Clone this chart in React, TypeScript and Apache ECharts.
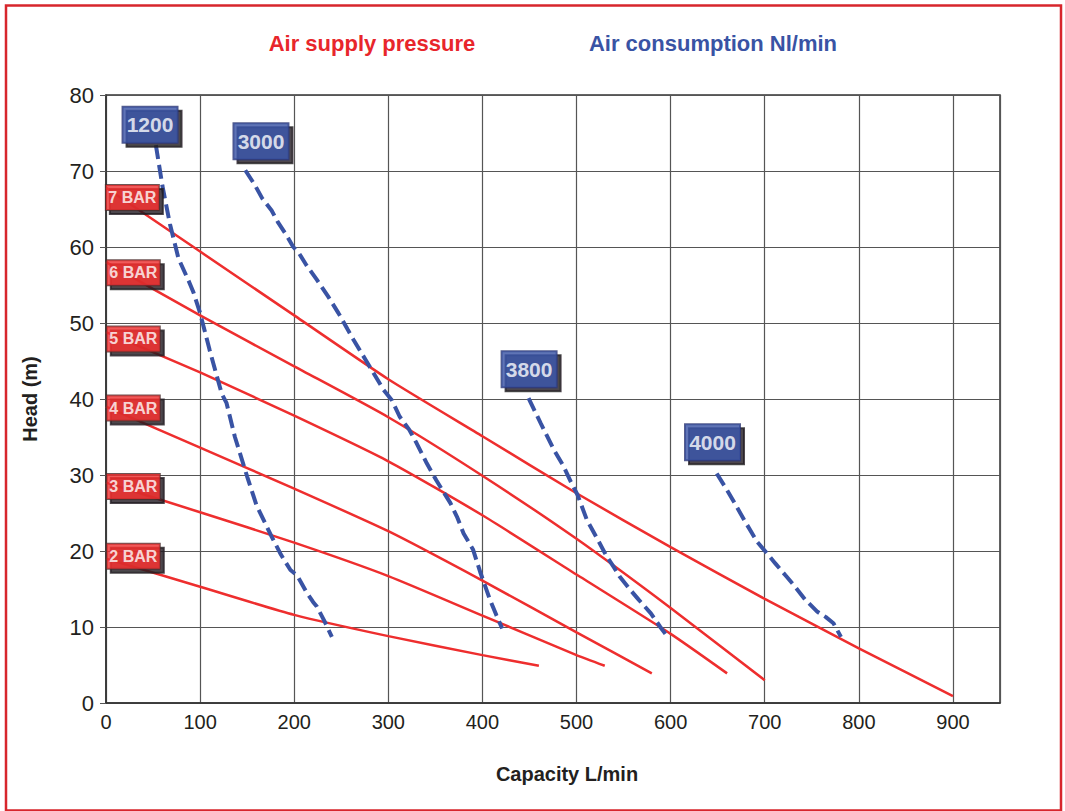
import React, { useEffect, useRef } from "react";
import * as echarts from "echarts";

// Air supply pressure curves: [capacity L/min, head m]
const bar7 = [[0, 67.8], [100, 59.4], [200, 51], [300, 42.6], [400, 35.1], [500, 27.6], [600, 20.5], [700, 13.7], [800, 7.2], [900, 0.9]];
const bar6 = [[0, 58], [100, 51], [200, 44.3], [300, 37.6], [400, 29.9], [500, 21.6], [600, 12.5], [700, 3]];
const bar5 = [[0, 48.8], [100, 43.5], [200, 37.8], [300, 31.8], [400, 24.7], [500, 16.9], [600, 9.1], [660, 3.9]];
const bar4 = [[0, 39], [100, 33.6], [200, 28.2], [300, 22.6], [400, 16.1], [500, 9.3], [580, 3.9]];
const bar3 = [[0, 29], [100, 25.1], [200, 21.1], [300, 16.7], [400, 11.5], [500, 6.3], [530, 4.9]];
const bar2 = [[0, 19], [100, 15.3], [200, 11.6], [300, 8.8], [400, 6.3], [460, 4.9]];

// Air consumption curves (Nl/min)
const air1200 = [[53, 73.4], [60, 68], [68, 63], [77, 58.5], [88, 55.5], [93, 54], [100, 51.3], [110, 46.5], [123, 40.7], [128, 39.5], [137, 35], [150, 29.8], [160, 26], [176, 21.9], [186, 19.5], [196, 17.5], [203, 16.8], [213, 14.6], [220, 13.3], [224, 12.7], [232, 10.8], [240, 8.7]];
const air3000 = [[148, 70.1], [158, 68.2], [166, 66.4], [176, 64.8], [183, 63.2], [192, 61.5], [199, 60], [205, 59.2], [213, 57.6], [224, 55.7], [236, 53.5], [247, 51.3], [257, 49.1], [263, 47.8], [279, 44.5], [295, 41.2], [304, 39.8], [312, 37.7], [322, 36], [330, 34.2], [341, 31.5], [351, 29.3], [366, 26.3], [373, 24.5], [380, 22.3], [390, 20.2], [398, 17.1], [408, 13.6], [415, 11.5], [421, 9.8]];
const air3800 = [[449, 40.1], [462, 36.8], [476, 33.3], [486, 31.2], [494, 29.1], [501, 27.4], [511, 24.1], [523, 21.4], [532, 19.3], [540, 17.8], [546, 16.6], [557, 14.9], [566, 13.6], [579, 11.8], [589, 10], [598, 8.5]];
const air4000 = [[649, 30.2], [660, 28], [668, 26.3], [679, 23.9], [692, 21.2], [701, 19.9], [711, 18.4], [722, 16.8], [731, 15.5], [743, 13.6], [756, 12], [765, 11.3], [773, 10.5], [781, 8.7]];

const barNames = ["7 BAR", "6 BAR", "5 BAR", "4 BAR", "3 BAR", "2 BAR"];
const barLabelPos = [[28, 66.5], [29, 56.6], [29, 47.9], [29, 38.8], [29, 28.5], [29, 19.3]];
const airNames = ["1200", "3000", "3800", "4000"];
const airLabelPos = [[46.8, 76.1], [164.7, 73.9], [449.6, 43.9], [644.5, 34.3]];

const xTicks = [0, 100, 200, 300, 400, 500, 600, 700, 800, 900];

const RED = "#ee2e2e";
const BLUE = "#3953a4";
const FONT = "'Liberation Sans', Arial, sans-serif";

export default function App() {
  const ref = useRef<HTMLDivElement>(null);
  useEffect(() => {
    if (!ref.current) return;
    const chart = echarts.init(ref.current, null, { renderer: "svg" });
    const barLines = [bar7, bar6, bar5, bar4, bar3, bar2].map((d, i) => ({
      type: "line",
      name: barNames[i],
      data: d,
      smooth: 0.2,
      symbol: "none",
      z: 2,
      lineStyle: { color: RED, width: 2.5 },
    }));
    const airLines = [air1200, air3000, air3800, air4000].map((d, i) => ({
      type: "line",
      name: airNames[i],
      data: d,
      symbol: "none",
      z: 3,
      lineStyle: { color: BLUE, width: 4, type: [14, 6] },
    }));
    const boxLabel = (fontSize: number, bg: string, border: string, w: number, h: number) => ({
      show: true,
      position: "inside",
      formatter: (p: any) => p.name,
      color: "#fff",
      fontFamily: FONT,
      fontWeight: "bold",
      fontSize,
      backgroundColor: bg,
      borderColor: border,
      borderWidth: 1,
      width: w,
      height: h,
      lineHeight: h,
      align: "center",
      verticalAlign: "middle",
      shadowColor: "#231f20",
      shadowOffsetX: 4,
      shadowOffsetY: 4,
      shadowBlur: 0,
    });
    const barLabels = {
      type: "scatter",
      symbolSize: 1,
      z: 10,
      itemStyle: { color: "rgba(0,0,0,0)" },
      data: barLabelPos.map((p, i) => ({ value: p, name: barNames[i] })),
      label: boxLabel(16, RED, "#4a2a2a", 53, 25),
    };
    const airLabels = {
      type: "scatter",
      symbolSize: 1,
      z: 10,
      itemStyle: { color: "rgba(0,0,0,0)" },
      data: airLabelPos.map((p, i) => ({ value: p, name: airNames[i] })),
      label: boxLabel(21, BLUE, "#2a3570", 55, 36),
    };
    chart.setOption({
      animation: false,
      backgroundColor: "#ffffff",
      grid: {
        left: 106,
        right: 65,
        top: 95,
        bottom: 108,
        show: true,
        borderColor: "#333",
        borderWidth: 1.5,
      },
      xAxis: {
        type: "value",
        min: 0,
        max: 950,
        interval: 100,
        name: "Capacity L/min",
        nameLocation: "middle",
        nameGap: 61,
        nameTextStyle: { fontFamily: FONT, fontWeight: "bold", fontSize: 20, color: "#231f20", padding: [0, 0, 0, 28] },
        axisLine: { show: true, lineStyle: { color: "#333", width: 1.5 } },
        axisTick: { show: false },
        axisLabel: {
          fontFamily: FONT,
          fontSize: 20,
          color: "#231f20",
          margin: 9,
          showMaxLabel: false,
          formatter: (v: number) => (xTicks.includes(v) ? String(v) : ""),
        },
        splitLine: { show: true, lineStyle: { color: "#555", width: 1.2 } },
      },
      yAxis: {
        type: "value",
        min: 0,
        max: 80,
        interval: 10,
        name: "Head (m)",
        nameLocation: "middle",
        nameGap: 66,
        nameRotate: 90,
        nameTextStyle: { fontFamily: FONT, fontWeight: "bold", fontSize: 20, color: "#231f20" },
        axisLine: { show: true, lineStyle: { color: "#333", width: 1.5 } },
        axisTick: { show: true, inside: false, length: 6, lineStyle: { color: "#555" } },
        axisLabel: { fontFamily: FONT, fontSize: 22, color: "#231f20", margin: 12 },
        splitLine: { show: true, lineStyle: { color: "#555", width: 1.2 } },
      },
      graphic: [
        {
          type: "rect",
          shape: { x: 6, y: 5.5, width: 1055, height: 805 },
          style: { fill: "none", stroke: "#d7262c", lineWidth: 2.5 },
          silent: true,
        },
        {
          type: "text",
          x: 372,
          y: 43,
          style: { text: "Air supply pressure", fill: "#e8262b", font: `bold 22px ${FONT}`, textAlign: "center", textVerticalAlign: "middle" },
        },
        {
          type: "text",
          x: 713,
          y: 43,
          style: { text: "Air consumption Nl/min", fill: BLUE, font: `bold 22px ${FONT}`, textAlign: "center", textVerticalAlign: "middle" },
        },
      ],
      series: [...barLines, ...airLines, barLabels, airLabels],
    });
    return () => chart.dispose();
  }, []);
  return <div ref={ref} style={{ position: "absolute", left: 0, top: 0, width: 1065, height: 811 }} />;
}
